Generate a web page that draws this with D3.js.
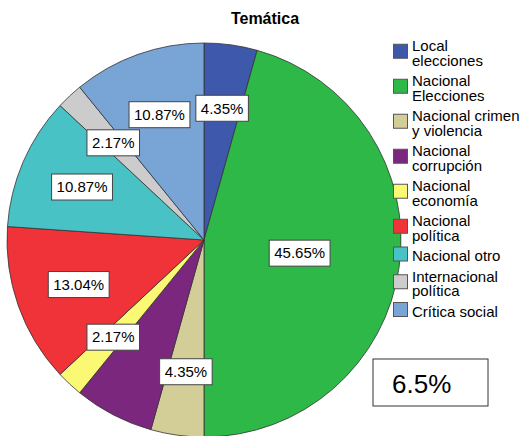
<html>
<head>
<script src="https://d3js.org/d3.v7.min.js"></script>
<style>
  body { margin: 0; background: #fff; }
  text { font-family: "Liberation Sans", Arial, sans-serif; }
</style>
</head>
<body>
<div id="chart"></div>
<script>
// categories (legend lines), counts (n = 46) and SPSS colours
const categories = [
  ["Local", "elecciones"],
  ["Nacional", "Elecciones"],
  ["Nacional crimen", "y violencia"],
  ["Nacional", "corrupción"],
  ["Nacional", "economía"],
  ["Nacional", "política"],
  ["Nacional otro"],
  ["Internacional", "política"],
  ["Crítica social"]
];
const counts = [2, 21, 2, 3, 1, 6, 5, 1, 5];
const pctLabels = ["4.35%", "45.65%", "4.35%", null, "2.17%", "13.04%", "10.87%", "2.17%", "10.87%"];
const colors = ["#3E58AC", "#2EB848", "#D3CE97", "#7B277D", "#FBF873", "#EF3338", "#48C2C5", "#CCCCCC", "#78A4D6"];
const boxLabel = "6.5%";

const width = 525, height = 436;
const cx = 204, cy = 240, r = 197;

const svg = d3.select("#chart").append("svg")
  .attr("width", width).attr("height", height);

// title
svg.append("text")
  .attr("x", 265).attr("y", 24)
  .attr("text-anchor", "middle")
  .attr("font-size", "16px").attr("font-weight", "bold")
  .text("Temática");

// pie
let pie = d3.pie().sort(null).value(d => d);
let arcs = pie(counts);
let arc = d3.arc().innerRadius(0).outerRadius(r);

let g = svg.append("g").attr("transform", "translate(" + cx + "," + cy + ")");
g.selectAll("path")
  .data(arcs)
  .enter()
  .append("path")
  .attr("d", arc)
  .attr("fill", (d, i) => colors[i])
  .attr("stroke", "#333")
  .attr("stroke-width", 0.8);

// slice labels, big slice sits closer to the centre
let labelArcOuter = d3.arc().innerRadius(0).outerRadius(r * 1.35);
let labelArcInner = d3.arc().innerRadius(0).outerRadius(r * 0.98);

let labels = g.selectAll("g.lbl")
  .data(arcs.filter((d, i) => pctLabels[i] != null))
  .enter()
  .append("g")
  .attr("class", "lbl")
  .attr("transform", function(d) {
    let frac = (d.endAngle - d.startAngle) / (2 * Math.PI);
    let c = frac > 0.25 ? labelArcInner.centroid(d) : labelArcOuter.centroid(d);
    return "translate(" + c[0] + "," + c[1] + ")";
  });

labels.append("text")
  .attr("text-anchor", "middle")
  .attr("dy", "0.35em")
  .attr("font-size", "15px")
  .text(d => pctLabels[d.index]);

labels.each(function() {
  let t = d3.select(this).select("text");
  let bb = t.node().getBBox();
  d3.select(this).insert("rect", "text")
    .attr("x", bb.x - 5).attr("y", -13)
    .attr("width", bb.width + 10).attr("height", 26)
    .attr("fill", "#fff")
    .attr("stroke", "#444")
    .attr("stroke-width", 1);
});

// legend
const lineH = 14.5, gap = 6;
let legend = svg.append("g").attr("transform", "translate(393,0)");
let yTop = 37;
categories.forEach(function(lines, i) {
  let item = legend.append("g");
  let first = yTop + 14;
  lines.forEach(function(s, j) {
    item.append("text")
      .attr("x", 19).attr("y", first + j * lineH)
      .attr("font-size", "15px")
      .text(s);
  });
  let mid = first + (lines.length - 1) * lineH / 2 - 7;
  item.append("rect")
    .attr("x", 0.5).attr("y", mid - 7)
    .attr("width", 14).attr("height", 14)
    .attr("fill", colors[i])
    .attr("stroke", "#555")
    .attr("stroke-width", 1);
  yTop += lines.length * lineH + gap;
});

// separate box for the unlabeled slice
let note = svg.append("g").attr("transform", "translate(373,359)");
note.append("rect")
  .attr("width", 115).attr("height", 47)
  .attr("fill", "#fff").attr("stroke", "#333").attr("stroke-width", 1);
note.append("text")
  .attr("x", 19).attr("y", 34)
  .attr("font-size", "26px")
  .text(boxLabel);
</script>
</body>
</html>
